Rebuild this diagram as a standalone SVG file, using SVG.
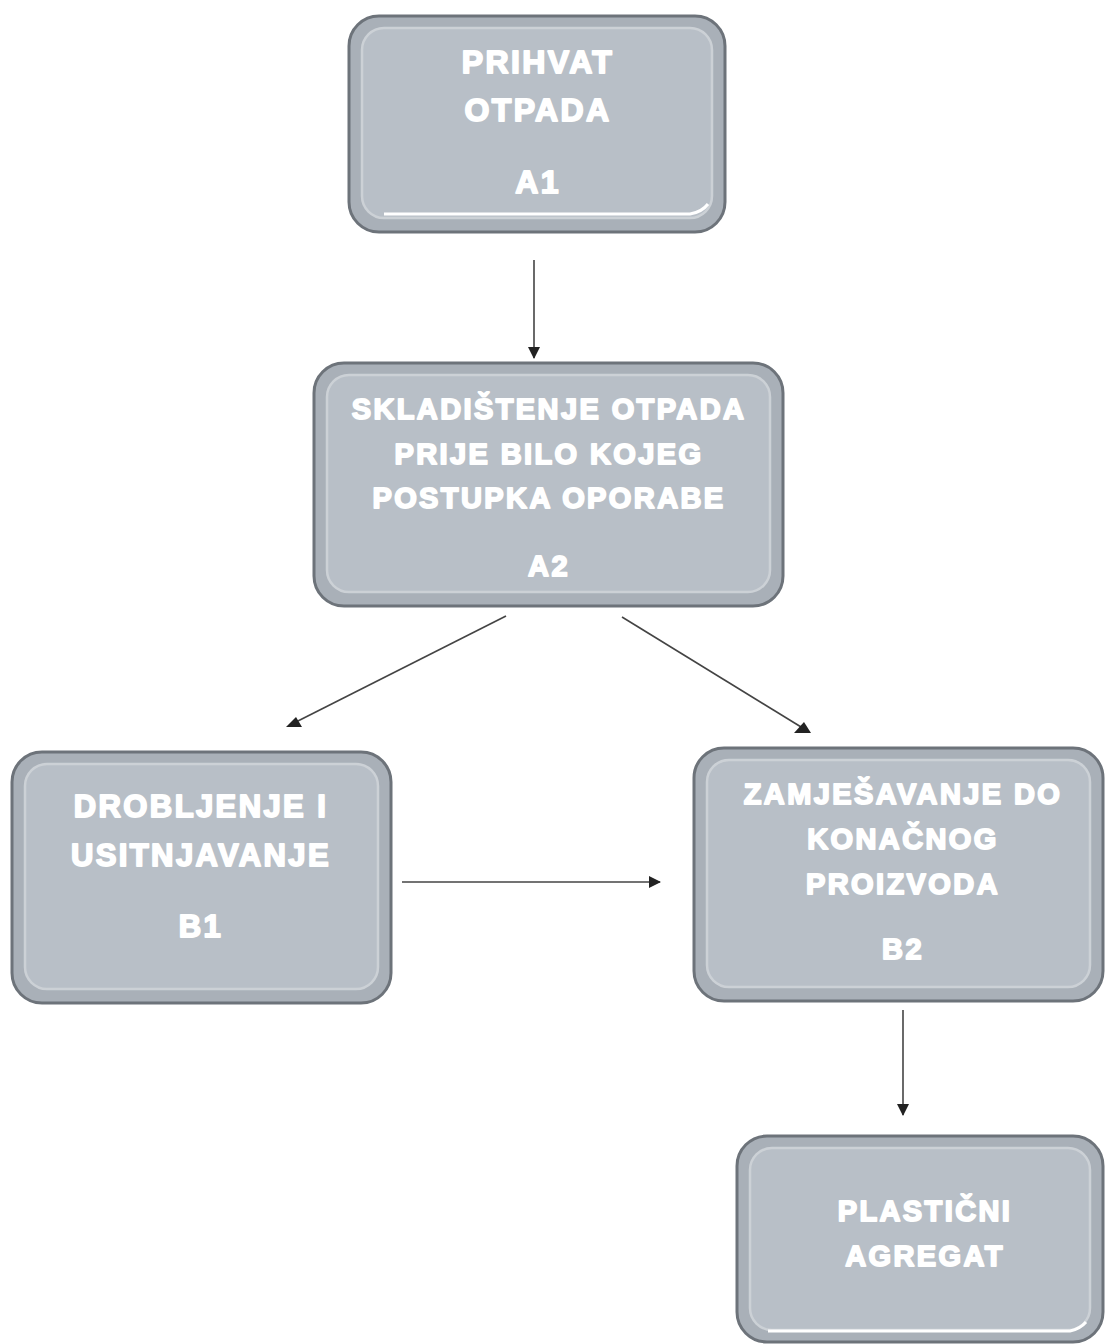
<svg xmlns="http://www.w3.org/2000/svg" width="1105" height="1344" viewBox="0 0 1105 1344">
<defs>
<style>
.outer{fill:#a9b0b8;stroke:#6d737a;stroke-width:3}
.inner{fill:#b8bfc7;stroke:#ccd1d6;stroke-width:2.5}
.hl{stroke:#ffffff;stroke-width:3;fill:none}
.t{font-family:"Liberation Sans",Arial,sans-serif;font-weight:bold;font-size:29px;fill:#ffffff;stroke:#ffffff;stroke-width:1.8;stroke-linejoin:round;letter-spacing:2.4px;text-anchor:middle}
.c{stroke:#444;stroke-width:1.6;fill:none}
.ah{fill:#222}
</style>
<marker id="arr" viewBox="0 0 12 12" refX="11" refY="6" markerWidth="12" markerHeight="12" markerUnits="userSpaceOnUse" orient="auto">
<path d="M0,0 L12,6 L0,12 Z" fill="#222"/>
</marker>
</defs>
<rect width="1105" height="1344" fill="#ffffff"/>
<g id="connectors">
<line class="c" x1="534" y1="260" x2="534" y2="358" marker-end="url(#arr)"/>
<line class="c" x1="506" y1="616" x2="290" y2="725"/>
<polygon class="ah" points="286,727 302,727 296,717"/>
<line class="c" x1="622" y1="617" x2="806" y2="730"/>
<polygon class="ah" points="794,733 811,733 804,722"/>
<line class="c" x1="402" y1="882" x2="660" y2="882" marker-end="url(#arr)"/>
<line class="c" x1="903" y1="1010" x2="903" y2="1115" marker-end="url(#arr)"/>
</g>
<g id="A1">
<rect class="outer" x="349" y="16" width="376" height="216" rx="30"/>
<rect class="inner" x="362" y="28" width="350" height="190" rx="22"/>
<path class="hl" d="M384,214 L690,214 Q702,212 708,204"/>
<text class="t" x="538" y="73" style="font-size:32px">PRIHVAT</text>
<text class="t" x="538" y="121" style="font-size:32px">OTPADA</text>
<text class="t" x="538" y="193" style="font-size:32px">A1</text>
</g>
<g id="A2">
<rect class="outer" x="314" y="363" width="469" height="243" rx="30"/>
<rect class="inner" x="327" y="375" width="443" height="217" rx="22"/>
<text class="t" x="549" y="419">SKLADIŠTENJE OTPADA</text>
<text class="t" x="549" y="464">PRIJE BILO KOJEG</text>
<text class="t" x="549" y="508">POSTUPKA OPORABE</text>
<text class="t" x="549" y="576">A2</text>
</g>
<g id="B1">
<rect class="outer" x="12" y="752" width="379" height="251" rx="30"/>
<rect class="inner" x="25" y="764" width="353" height="225" rx="22"/>
<text class="t" x="201" y="817" style="font-size:31px">DROBLJENJE I</text>
<text class="t" x="201" y="866" style="font-size:31px">USITNJAVANJE</text>
<text class="t" x="201" y="937" style="font-size:31px">B1</text>
</g>
<g id="B2">
<rect class="outer" x="694" y="748" width="409" height="253" rx="30"/>
<rect class="inner" x="707" y="760" width="383" height="227" rx="22"/>
<text class="t" x="903" y="804">ZAMJEŠAVANJE DO</text>
<text class="t" x="903" y="849">KONAČNOG</text>
<text class="t" x="903" y="894">PROIZVODA</text>
<text class="t" x="903" y="959">B2</text>
</g>
<g id="P">
<rect class="outer" x="737" y="1136" width="366" height="206" rx="30"/>
<rect class="inner" x="750" y="1148" width="340" height="182" rx="22"/>
<path class="hl" d="M768,1331 L1070,1331 Q1080,1329 1086,1322"/>
<text class="t" x="925" y="1221">PLASTIČNI</text>
<text class="t" x="925" y="1266">AGREGAT</text>
</g>
</svg>
